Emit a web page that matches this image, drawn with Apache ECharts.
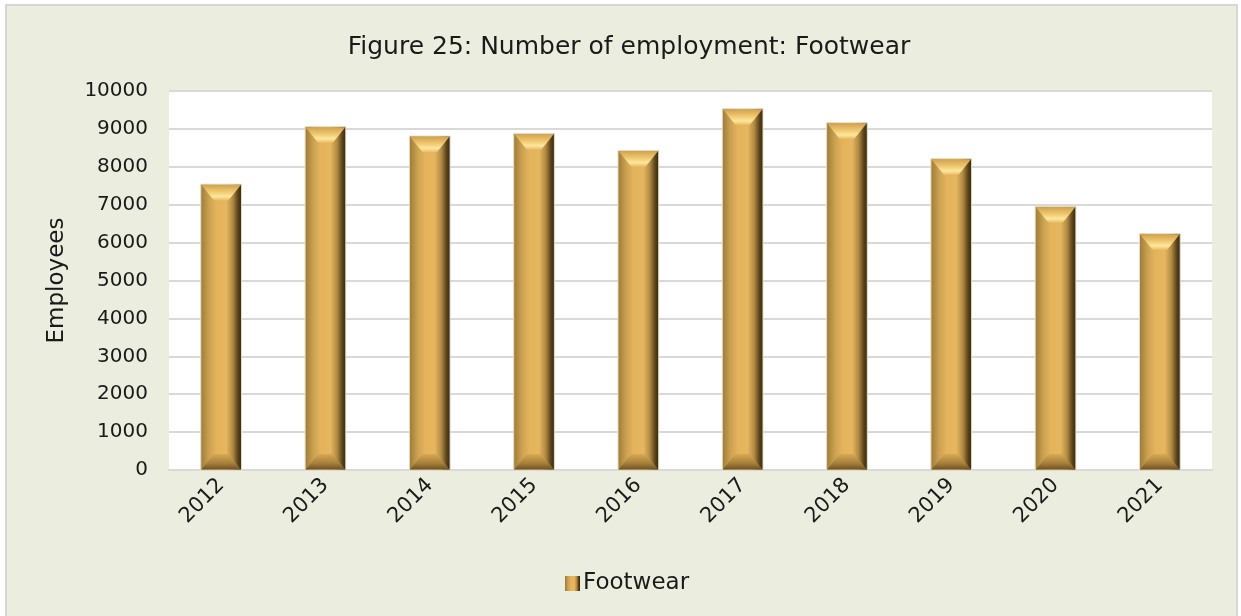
<!DOCTYPE html>
<html>
<head>
<meta charset="utf-8">
<script src="https://cdn.jsdelivr.net/npm/echarts@6/dist/echarts.min.js"></script>
<style>
  html, body { margin: 0; padding: 0; background: #fff; }
  #chart { width: 1241px; height: 616px; }
</style>
</head>
<body>
<div id="chart"></div>
<script>
// data
const years = ["2012", "2013", "2014", "2015", "2016", "2017", "2018", "2019", "2020", "2021"];
const employees = [7540, 9060, 8810, 8880, 8430, 9530, 9160, 8210, 6950, 6235];
const yTicks = { min: 0, max: 10000, interval: 1000 };

const font = "DejaVu Sans";

// side-to-side shading of the bevelled column
function bodyFill() {
  return new echarts.graphic.LinearGradient(0, 0, 1, 0, [
    { offset: 0, color: "#9a7838" },
    { offset: 0.2, color: "#c9a050" },
    { offset: 0.38, color: "#e4b35c" },
    { offset: 0.62, color: "#e6b760" },
    { offset: 0.78, color: "#b08942" },
    { offset: 0.9, color: "#5c451c" },
    { offset: 1, color: "#2e220e" }
  ]);
}

function renderBar(params, api) {
  const top = api.coord([api.value(0), api.value(1)]);
  const base = api.coord([api.value(0), 0]);
  const w = api.size([1, 0])[0] * 0.39;
  const x0 = top[0] - w / 2, x1 = top[0] + w / 2;
  const yt = top[1], yb = base[1];
  const h = Math.min(16, (yb - yt) / 2);
  const b = Math.min(13, w / 2 - 2);
  return {
    type: "group",
    children: [
      {
        type: "rect",
        shape: { x: x0, y: yt, width: w, height: yb - yt },
        style: { fill: bodyFill(), stroke: "#e6dcc2", lineWidth: 1 }
      },
      {
        type: "polygon",
        shape: { points: [[x0 + 0.5, yt + 0.5], [x1 - 0.5, yt + 0.5], [x1 - b, yt + h], [x0 + b, yt + h]] },
        style: {
          fill: new echarts.graphic.LinearGradient(0, 0, 0, 1, [
            { offset: 0, color: "#cfa150" },
            { offset: 0.45, color: "#f0c86f" },
            { offset: 0.75, color: "#fde79f" },
            { offset: 1, color: "#eabd66" }
          ])
        }
      },
      {
        type: "polygon",
        shape: { points: [[x0 + b, yb - h], [x1 - b, yb - h], [x1 - 0.5, yb - 0.5], [x0 + 0.5, yb - 0.5]] },
        style: {
          fill: new echarts.graphic.LinearGradient(0, 0, 0, 1, [
            { offset: 0, color: "#d8a954" },
            { offset: 0.6, color: "#a67f3b" },
            { offset: 1, color: "#6e5224" }
          ])
        }
      }
    ]
  };
}

const chart = echarts.init(document.getElementById("chart"));
chart.setOption({
  backgroundColor: "#ffffff",
  animation: false,
  graphic: [
    {
      type: "rect",
      z: -10,
      shape: { x: 6, y: 5, width: 1231, height: 620 },
      style: { fill: "#ebeedf", stroke: "#d6d6d6", lineWidth: 2 }
    },
    {
      type: "rect",
      z: -5,
      shape: { x: 169, y: 91, width: 1043, height: 379 },
      style: { fill: "#ffffff" }
    }
  ],
  title: {
    text: "Figure 25: Number of employment: Footwear",
    left: 624,
    textAlign: "center",
    top: 30,
    textStyle: { fontFamily: font, fontSize: 25, fontWeight: "normal", color: "#1a1a1a" }
  },
  legend: {
    bottom: 16,
    left: 560,
    itemWidth: 15,
    itemHeight: 15,
    itemGap: 6,
    icon: "rect",
    textStyle: { fontFamily: font, fontSize: 23, color: "#1a1a1a", padding: [0, 0, 0, -2] },
    data: ["Footwear"]
  },
  grid: { left: 169, right: 29, top: 91, bottom: 146 },
  xAxis: {
    type: "category",
    data: years,
    axisLine: { lineStyle: { color: "#d9d9d9", width: 2 } },
    axisTick: { show: false },
    axisLabel: { rotate: 45, margin: 12, fontFamily: font, fontSize: 21, color: "#1a1a1a" }
  },
  yAxis: {
    type: "value",
    min: yTicks.min,
    max: yTicks.max,
    interval: yTicks.interval,
    name: "Employees",
    nameLocation: "middle",
    nameGap: 100,
    nameTextStyle: { fontFamily: font, fontSize: 23, color: "#1a1a1a" },
    axisLine: { show: false },
    axisTick: { show: false },
    splitLine: { lineStyle: { color: "#d9d9d9", width: 2 } },
    axisLabel: {
      margin: 21,
      fontFamily: font,
      fontSize: 20,
      color: "#1a1a1a",
      formatter: (v) => String(v)
    }
  },
  series: [
    {
      name: "Footwear",
      type: "custom",
      renderItem: renderBar,
      itemStyle: { color: bodyFill() },
      encode: { x: 0, y: 1 },
      data: years.map((y, i) => [i, employees[i]])
    }
  ]
});
</script>
</body>
</html>
